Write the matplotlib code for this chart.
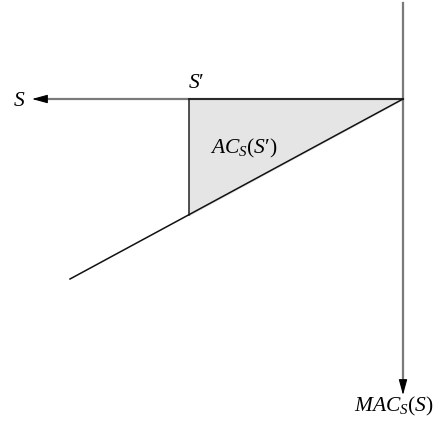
import matplotlib
matplotlib.use('Agg')

import matplotlib.pyplot as plt

# ── 데이터 (픽셀 좌표계, y는 아래로 증가) ──────────────────────────────
ORIGIN      = (403, 99)     # 두 축이 만나는 점
S_AXIS_END  = 32            # S 축 화살표 끝 (x)
MAC_AXIS    = (3, 395)      # 세로축 시작 / 화살표 끝 (y)
MAC_LINE_X  = [403, 70]     # MAC 직선 x
MAC_LINE_Y  = [99, 279]     # MAC 직선 y
S_PRIME_X   = 189           # S'

plt.rcParams['font.family'] = ['Liberation Serif', 'DejaVu Serif']
plt.rcParams['mathtext.fontset'] = 'custom'
plt.rcParams['mathtext.rm'] = 'Liberation Serif'
plt.rcParams['mathtext.it'] = 'Liberation Serif:italic'

AXIS_C = '#7a7a7a'

fig = plt.figure(figsize=(4.35, 4.23), dpi=100)
ax = fig.add_axes([0, 0, 1, 1])
ax.set_xlim(0, 435)
ax.set_ylim(423, 0)
ax.axis('off')

ox, oy = ORIGIN
slope = (MAC_LINE_Y[1] - MAC_LINE_Y[0]) / (MAC_LINE_X[1] - MAC_LINE_X[0])
y_sp = oy + slope * (S_PRIME_X - ox)

# 음영 삼각형
ax.fill([ox, S_PRIME_X, S_PRIME_X], [oy, oy, y_sp], color='#e5e5e5', zorder=1)

# 축
ax.plot([ox, S_AXIS_END + 8], [oy, oy], color=AXIS_C, lw=1.6, zorder=2)
ax.plot([ox, ox], [MAC_AXIS[0], MAC_AXIS[1] - 8], color=AXIS_C, lw=1.6, zorder=2)
head = dict(arrowstyle='-|>,head_length=0.95,head_width=0.26', color='black',
            lw=0.8, shrinkA=0, shrinkB=0)
ax.annotate('', xy=(S_AXIS_END, oy), xytext=(S_AXIS_END + 13, oy), arrowprops=head)
ax.annotate('', xy=(ox, MAC_AXIS[1]), xytext=(ox, MAC_AXIS[1] - 13), arrowprops=head)

# 삼각형 테두리 + MAC 직선
ax.plot([S_PRIME_X, ox], [oy, oy], color='#222222', lw=1.3, zorder=3)
ax.plot([S_PRIME_X, S_PRIME_X], [oy, y_sp], color='#222222', lw=1.1, zorder=3)
ax.plot(MAC_LINE_X, MAC_LINE_Y, color='#111111', lw=1.1, zorder=3)

# 라벨
fs = 15.5
ax.text(19, oy + 2, r'$S$', fontsize=fs, ha='center', va='center')
ax.text(S_PRIME_X + 7, oy - 16, r'$S′$', fontsize=fs, ha='center', va='center')
ax.text(244, 148, r'$AC_S(S′)$', fontsize=fs, ha='center', va='center')
ax.text(394, 406, r'$MAC_S(S)$', fontsize=fs, ha='center', va='center')

fig.savefig('out.png', dpi=100)
plt.close(fig)
